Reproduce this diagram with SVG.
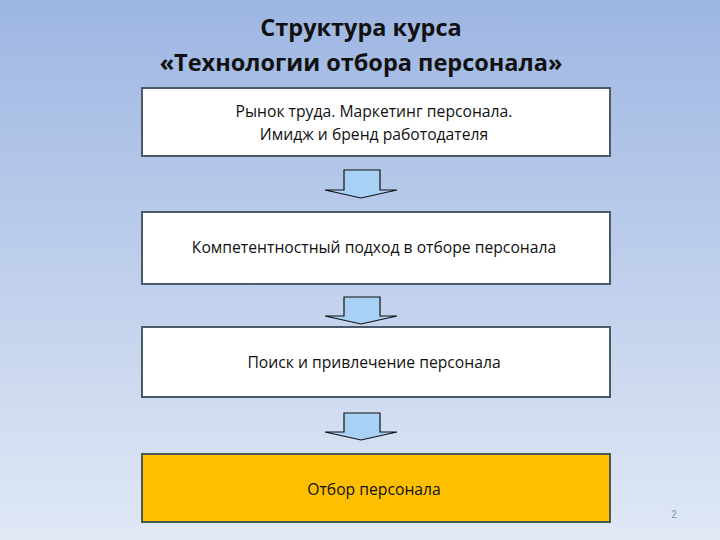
<svg xmlns="http://www.w3.org/2000/svg" width="720" height="540" viewBox="0 0 720 540">
<defs>
<linearGradient id="bg" x1="0" y1="0" x2="0" y2="1"><stop offset="0" stop-color="#9db6e2"/><stop offset="1" stop-color="#e0e8f5"/></linearGradient>
<style>
.box{fill:#fff;stroke:#4a5a6a;stroke-width:2}
.t{font-family:"Open Sans","Liberation Sans",sans-serif;font-size:15.7px;fill:#111;text-anchor:middle}
.ttl{font-family:"Open Sans","Liberation Sans",sans-serif;font-size:23.5px;font-weight:bold;fill:#111;text-anchor:middle}
.arr{fill:#a9d0f5;stroke:#111;stroke-width:1.2}
</style>
</defs>
<rect width="720" height="540" fill="url(#bg)"/>
<text class="ttl" x="361" y="36">Структура курса</text>
<text class="ttl" x="361" y="71">«Технологии отбора персонала»</text>
<g id="n1"><rect class="box" x="142" y="88" width="468" height="68"/><text class="t" x="374" y="117">Рынок труда. Маркетинг персонала.</text><text class="t" x="374" y="140">Имидж и бренд работодателя</text></g>
<g id="n2"><rect class="box" x="142" y="212" width="468" height="72"/><text class="t" x="374" y="253">Компетентностный подход в отборе персонала</text></g>
<g id="n3"><rect class="box" x="142" y="327" width="468" height="70"/><text class="t" x="374" y="368">Поиск и привлечение персонала</text></g>
<g id="n4"><rect x="142" y="454" width="468" height="68" fill="#fdbf00" stroke="#4a5a50" stroke-width="2"/><text class="t" x="374" y="495">Отбор персонала</text></g>
<g id="connectors">
<path class="arr" d="M344 170H380V190H397L361 198L325 190H344Z"/>
<path class="arr" d="M344 297H380V316H397L361 324L325 316H344Z"/>
<path class="arr" d="M344 413H380V432H397L361 440L325 432H344Z"/>
</g>
<text x="674" y="518" font-family="Liberation Sans,sans-serif" font-size="10" fill="#8a94a8" text-anchor="middle">2</text>
</svg>
